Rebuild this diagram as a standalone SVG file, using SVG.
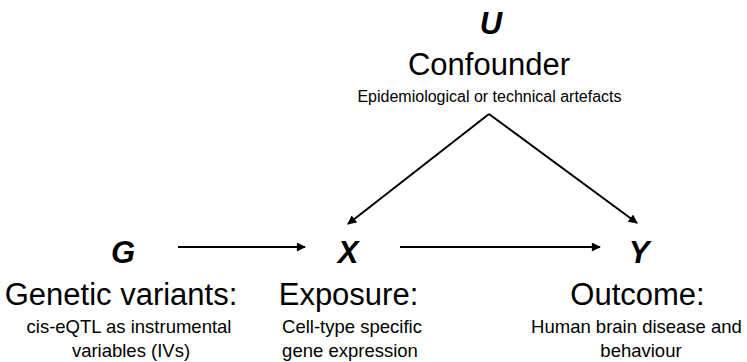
<svg xmlns="http://www.w3.org/2000/svg" width="747" height="362" viewBox="0 0 747 362">
<style>
text{font-family:"Liberation Sans",Arial,sans-serif;fill:#000;text-anchor:middle}
.var{font-weight:bold;font-style:italic;font-size:31px}
.title{font-size:31px}
.sub{font-size:18.5px}
.note{font-size:16px}
.edge{stroke:#000;stroke-width:2;fill:none;marker-end:url(#ah)}
</style>
<defs>
<marker id="ah" viewBox="0 0 10 10" refX="9" refY="5" markerWidth="5" markerHeight="4.5" orient="auto" markerUnits="strokeWidth">
<path d="M0,0 L10,5 L0,10 z" fill="#000"/>
</marker>
</defs>
<rect width="747" height="362" fill="#fff"/>
<g id="connectors">
<line class="edge" x1="178" y1="247" x2="305" y2="247"/>
<line class="edge" x1="400" y1="247" x2="600" y2="247"/>
<line class="edge" x1="489" y1="114" x2="348" y2="224"/>
<line class="edge" x1="489" y1="114" x2="637" y2="223"/>
</g>
<g id="node-U">
<text class="var" x="491" y="34">U</text>
<text class="title" x="489" y="75">Confounder</text>
<text class="note" x="489.5" y="102">Epidemiological or technical artefacts</text>
</g>
<g id="node-G">
<text class="var" x="123" y="263">G</text>
<text class="title" x="121" y="305">Genetic variants:</text>
<text class="sub" x="129" y="333">cis-eQTL as instrumental</text>
<text class="sub" x="131" y="357">variables (IVs)</text>
</g>
<g id="node-X">
<text class="var" x="348" y="263">X</text>
<text class="title" x="348.5" y="305">Exposure:</text>
<text class="sub" x="352" y="333">Cell-type specific</text>
<text class="sub" x="350" y="357">gene expression</text>
</g>
<g id="node-Y">
<text class="var" x="639" y="263">Y</text>
<text class="title" x="637.5" y="305">Outcome:</text>
<text class="sub" x="636.5" y="333">Human brain disease and</text>
<text class="sub" x="641" y="357">behaviour</text>
</g>
</svg>
